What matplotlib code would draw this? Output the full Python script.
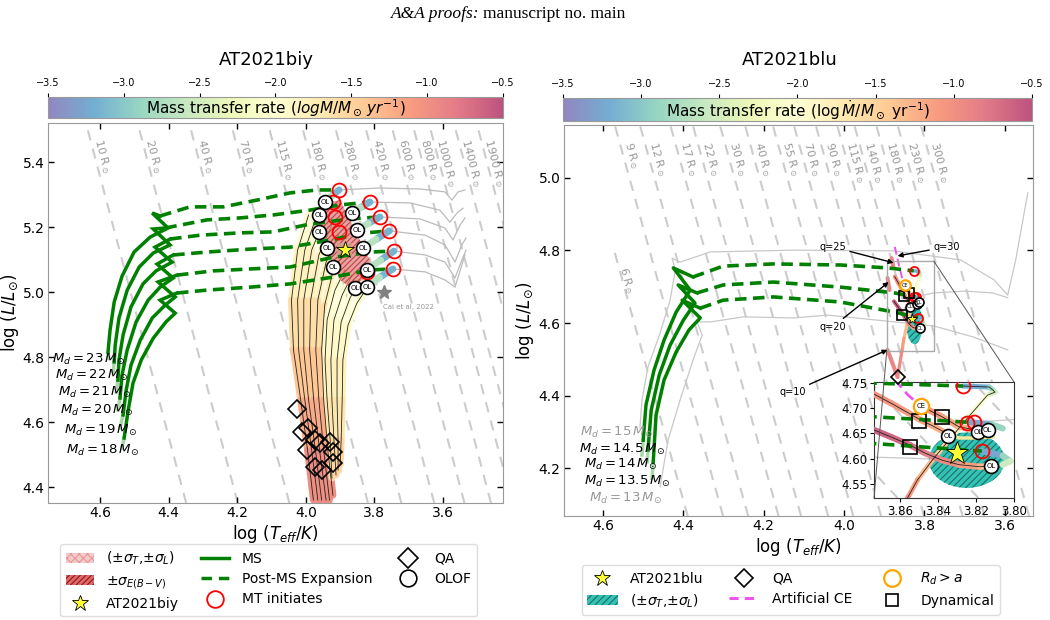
import numpy as np
import matplotlib
matplotlib.use('Agg')
import matplotlib.pyplot as plt
from matplotlib.colors import ListedColormap, Normalize
from matplotlib.collections import LineCollection
from matplotlib.patches import Polygon, Rectangle, Ellipse, Patch, ConnectionPatch
from matplotlib.lines import Line2D
from matplotlib.cm import ScalarMappable

plt.rcParams['font.family'] = ['DejaVu Sans']
plt.rcParams['hatch.linewidth'] = 0.8

LOG_TSUN = np.log10(5772.0)

# ---------------- AT2021biy (left panel) ----------------
biy_masses = [18, 19, 20, 21, 22, 23]
biy_label_T = [4.486, 4.492, 4.504, 4.510, 4.518, 4.527]
biy_label_L = [4.514, 4.575, 4.637, 4.692, 4.742, 4.794]
biy_zams_T = [4.536, 4.542, 4.548, 4.553, 4.562, 4.577]
biy_zams_L = [4.520, 4.582, 4.637, 4.692, 4.754, 4.797]
# main sequence up to the hook
biy_ms_T = [[4.530, 4.518, 4.504, 4.480, 4.445, 4.408, 4.381, 4.425, 4.376],
            [4.533, 4.524, 4.510, 4.483, 4.448, 4.410, 4.381, 4.431, 4.376],
            [4.542, 4.536, 4.521, 4.495, 4.460, 4.425, 4.387, 4.434, 4.387],
            [4.548, 4.545, 4.533, 4.510, 4.475, 4.437, 4.390, 4.440, 4.396],
            [4.559, 4.556, 4.545, 4.521, 4.486, 4.445, 4.396, 4.445, 4.410],
            [4.577, 4.571, 4.559, 4.536, 4.501, 4.454, 4.402, 4.448, 4.425]]
biy_ms_L = [[4.551, 4.637, 4.720, 4.791, 4.858, 4.908, 4.935, 4.975, 4.997],
            [4.622, 4.698, 4.775, 4.852, 4.920, 4.960, 4.985, 5.031, 5.052],
            [4.674, 4.745, 4.822, 4.908, 4.975, 5.015, 5.043, 5.086, 5.114],
            [4.729, 4.791, 4.868, 4.954, 5.025, 5.065, 5.092, 5.138, 5.163],
            [4.785, 4.837, 4.920, 5.006, 5.077, 5.120, 5.145, 5.194, 5.197],
            [4.815, 4.883, 4.969, 5.049, 5.123, 5.169, 5.197, 5.243, 5.234]]
# post-MS expansion
biy_pms_T = [[4.376, 4.288, 4.163, 4.046, 3.921, 3.813, 3.746],
             [4.376, 4.271, 4.163, 4.046, 3.929, 3.813, 3.743],
             [4.387, 4.288, 4.163, 4.046, 3.929, 3.827, 3.757],
             [4.396, 4.308, 4.192, 4.096, 3.988, 3.871, 3.784],
             [4.410, 4.288, 4.192, 4.096, 3.988, 3.900, 3.813],
             [4.425, 4.338, 4.241, 4.142, 4.046, 3.967, 3.903]]
biy_pms_L = [[4.997, 5.006, 5.015, 5.025, 5.046, 5.068, 5.071],
             [5.052, 5.065, 5.071, 5.077, 5.105, 5.123, 5.126],
             [5.114, 5.123, 5.132, 5.138, 5.160, 5.182, 5.188],
             [5.163, 5.175, 5.182, 5.185, 5.209, 5.225, 5.231],
             [5.197, 5.222, 5.228, 5.237, 5.252, 5.268, 5.277],
             [5.234, 5.262, 5.262, 5.283, 5.305, 5.314, 5.314]]
# single-star continuation (grey)
biy_single_T = [[3.746, 3.652, 3.594, 3.565, 3.545, 3.536],
                [3.743, 3.652, 3.594, 3.565, 3.545, 3.533],
                [3.757, 3.652, 3.594, 3.565, 3.545, 3.533],
                [3.784, 3.667, 3.594, 3.571, 3.550, 3.536],
                [3.813, 3.696, 3.609, 3.580, 3.559, 3.542],
                [3.903, 3.784, 3.667, 3.594, 3.574, 3.556, 3.536]]
biy_single_L = [[5.071, 5.062, 5.037, 5.015, 5.083, 5.114],
                [5.126, 5.114, 5.092, 5.043, 5.098, 5.129],
                [5.188, 5.175, 5.145, 5.092, 5.145, 5.166],
                [5.231, 5.225, 5.197, 5.160, 5.206, 5.228],
                [5.277, 5.274, 5.252, 5.215, 5.243, 5.258],
                [5.314, 5.320, 5.317, 5.308, 5.283, 5.308, 5.314]]
# mass transfer right after RLOF (late MT models)
biy_mt_T = [[3.746, 3.785, 3.822], [3.743, 3.782, 3.822], [3.757, 3.795, 3.833],
            [3.784, 3.818, 3.851], [3.813, 3.840, 3.865], [3.903, 3.925, 3.944]]
biy_mt_L = [[5.071, 5.045, 5.015], [5.126, 5.098, 5.068], [5.188, 5.162, 5.135],
            [5.231, 5.211, 5.191], [5.277, 5.260, 5.243], [5.314, 5.296, 5.277]]
biy_mt_rate = [-3.4, -2.9, -2.5]
# accretor-like arcs (early MT models)
biy_arcA_T = [[3.992, 4.024, 4.042, 4.036, 4.015, 3.995, 3.978],
              [3.965, 4.003, 4.024, 4.021, 4.003, 3.983, 3.965],
              [3.941, 3.983, 4.006, 4.006, 3.992, 3.972, 3.954],
              [3.921, 3.962, 3.986, 3.989, 3.977, 3.960, 3.941],
              [3.904, 3.941, 3.965, 3.971, 3.962, 3.948, 3.931],
              [3.884, 3.921, 3.945, 3.954, 3.948, 3.936, 3.921]]
biy_arcA_L = [[5.237, 5.129, 4.975, 4.822, 4.668, 4.514, 4.360],
              [5.246, 5.129, 4.975, 4.822, 4.668, 4.514, 4.360],
              [5.237, 5.129, 4.975, 4.822, 4.668, 4.514, 4.360],
              [5.215, 5.114, 4.975, 4.822, 4.668, 4.514, 4.360],
              [5.175, 5.092, 4.975, 4.822, 4.668, 4.514, 4.360],
              [5.129, 5.062, 4.960, 4.822, 4.668, 4.514, 4.375]]
biy_arcA_rate = [-2.0, -1.9, -1.7, -1.5, -1.3, -1.1, -0.85]
biy_arcB_T = [[3.886, 3.915, 3.938, 3.944, 3.938, 3.929, 3.924],
              [3.865, 3.894, 3.918, 3.927, 3.924, 3.918, 3.912],
              [3.842, 3.871, 3.897, 3.909, 3.909, 3.906, 3.906],
              [3.822, 3.851, 3.877, 3.892, 3.894, 3.897, 3.900]]
biy_arcB_L = [[5.068, 5.006, 4.914, 4.791, 4.668, 4.545, 4.428],
              [5.052, 4.991, 4.914, 4.791, 4.668, 4.545, 4.437],
              [5.037, 4.982, 4.908, 4.791, 4.668, 4.545, 4.452],
              [5.012, 4.966, 4.898, 4.791, 4.668, 4.545, 4.468]]
biy_arcB_rate = [-2.15, -2.05, -1.95, -1.85, -1.75, -1.6, -1.45]
biy_rlof_T = [3.921, 3.915, 3.903, 3.822]
biy_rlof_L = [5.277, 5.231, 5.185, 5.062]
biy_ol_T = [3.944, 3.962, 3.865, 3.962, 3.851, 3.938, 3.833, 3.921, 3.822, 3.857, 3.822]
biy_ol_L = [5.277, 5.237, 5.243, 5.185, 5.191, 5.135, 5.135, 5.077, 5.068, 5.012, 5.015]
biy_qa_T = [4.026, 4.011, 3.994, 3.997, 3.973, 3.959, 3.929, 3.921, 3.921, 3.973, 3.953]
biy_qa_L = [4.640, 4.569, 4.582, 4.514, 4.545, 4.535, 4.538, 4.508, 4.474, 4.462, 4.452]
biy_ebv_T = [3.950, 3.900, 3.813, 3.819, 3.871, 3.900, 3.959]
biy_ebv_L = [5.274, 5.283, 5.098, 5.046, 5.015, 5.037, 5.191]
biy_obs = (3.886, 5.129)
biy_err_T = (3.865, 3.909)
biy_err_L = (5.108, 5.151)
cai_obs = (3.772, 5.000)
biy_radii = [10, 20, 40, 70, 115, 180, 280, 420, 600, 800, 1000, 1400, 1900]

# ---------------- AT2021blu (right panel) ----------------
blu_label_txt = ['15', '14.5', '14', '13.5', '13']
blu_label_col = ['#999999', 'k', 'k', 'k', '#999999']
blu_label_T = [4.475, 4.445, 4.465, 4.433, 4.453]
blu_label_L = [4.297, 4.252, 4.211, 4.164, 4.117]
blu_zams_T = [4.478, 4.490, 4.503]
blu_zams_L = [4.172, 4.217, 4.236]
blu_ms_T = [[4.475, 4.468, 4.448, 4.418, 4.386, 4.358, 4.403, 4.358],
            [4.488, 4.480, 4.460, 4.433, 4.400, 4.371, 4.413, 4.366],
            [4.500, 4.493, 4.473, 4.448, 4.418, 4.383, 4.425, 4.376]]
blu_ms_L = [[4.217, 4.346, 4.443, 4.520, 4.581, 4.614, 4.663, 4.641],
            [4.250, 4.360, 4.457, 4.539, 4.608, 4.655, 4.705, 4.683],
            [4.277, 4.374, 4.470, 4.553, 4.630, 4.691, 4.752, 4.727]]
blu_pms_T = [[4.358, 4.301, 4.176, 4.009, 3.874, 3.817],
             [4.366, 4.301, 4.176, 4.009, 3.874, 3.823],
             [4.376, 4.301, 4.176, 4.009, 3.892, 3.827]]
blu_pms_L = [[4.641, 4.663, 4.672, 4.658, 4.630, 4.615],
             [4.683, 4.705, 4.713, 4.699, 4.683, 4.672],
             [4.727, 4.757, 4.763, 4.760, 4.752, 4.744]]
blu_g15_T = [4.508, 4.503, 4.488, 4.458, 4.433, 4.420, 4.428, 4.408, 4.333, 4.126, 3.877,
             3.710, 3.627, 3.593, 3.573, 3.543]
blu_g15_L = [4.311, 4.388, 4.479, 4.572, 4.663, 4.746, 4.779, 4.768, 4.796, 4.801, 4.799,
             4.774, 4.719, 4.677, 4.774, 4.959]
blu_g13_T = [4.458, 4.438, 4.408, 4.376, 4.353, 4.366, 4.333, 4.251, 4.126, 4.041, 3.777,
             3.677, 3.593]
blu_g13_L = [4.148, 4.277, 4.388, 4.498, 4.567, 4.603, 4.603, 4.617, 4.614, 4.622, 4.592,
             4.561, 4.526]
blu_gmid_T = [3.823, 3.777, 3.700, 3.630, 3.593]
blu_gmid_L = [4.672, 4.683, 4.688, 4.683, 4.670]
blu_long_T = [3.827, 3.813, 3.810, 3.814, 3.824, 3.833, 3.843, 3.851, 3.856, 3.867]
blu_long_L = [4.744, 4.742, 4.732, 4.726, 4.683, 4.643, 4.598, 4.558, 4.524, 4.451]
blu_long_rate = [-3.3, -3.1, -2.7, -2.3, -1.9, -1.6, -1.4, -1.2, -1.0, -0.9]
blu_q10_T = [3.892, 3.867]
blu_q10_L = [4.526, 4.451]
blu_q25_T = [3.882, 3.877]
blu_q25_L = [4.779, 4.752]
blu_q20_T = [3.892, 3.887]
blu_q20_L = [4.724, 4.691]
blu_t1_T = [3.874, 3.865, 3.856, 3.850, 3.843, 3.835]
blu_t1_L = [4.728, 4.710, 4.691, 4.678, 4.665, 4.649]
blu_t1_rate = [-1.0, -1.05, -1.1, -1.15, -1.2, -1.3]
blu_t1tail_T = [3.835, 3.829, 3.820, 3.811]
blu_t1tail_L = [4.649, 4.641, 4.641, 4.643]
blu_t2_T = [3.876, 3.865, 3.855, 3.847, 3.838, 3.829, 3.818, 3.812]
blu_t2_L = [4.660, 4.643, 4.627, 4.611, 4.597, 4.588, 4.584, 4.586]
blu_t2_rate = [-0.6, -0.65, -0.7, -0.8, -0.9, -1.0, -1.2, -1.4]
blu_t3_T = [3.849, 3.838, 3.829, 3.820, 3.814]
blu_t3_L = [4.704, 4.683, 4.663, 4.657, 4.657]
blu_t3_rate = [-1.0, -1.1, -1.2, -1.4, -1.6]
blu_mid_T = [3.823, 3.812, 3.806]
blu_mid_L = [4.672, 4.668, 4.660]
blu_bot_T = [3.817, 3.806, 3.802, 3.806]
blu_bot_L = [4.615, 4.606, 4.595, 4.588]
blu_low_rate = [-3.4, -3.1, -2.7, -2.4]
blu_ce_line_T = [3.874, 3.862, 3.856, 3.850]
blu_ce_line_L = [4.810, 4.752, 4.726, 4.707]
blu_rlof_T = [3.827, 3.825, 3.821, 3.817]
blu_rlof_L = [4.744, 4.671, 4.673, 4.615]
blu_ol_T = [3.835, 3.819, 3.814, 3.812]
blu_ol_L = [4.645, 4.653, 4.657, 4.586]
blu_dyn_T = [3.850, 3.838, 3.855]
blu_dyn_L = [4.675, 4.683, 4.623]
blu_ce = (3.849, 4.704)
blu_qa = (3.867, 4.451)
blu_obs = (3.830, 4.611)
blu_err_c = (3.825, 4.597)
blu_err_wh = (0.040, 0.110)
blu_radii = [9, 12, 17, 22, 30, 40, 55, 70, 90, 115, 140, 180, 230, 300]
blu_q_txt = ['q=25', 'q=30', 'q=20', 'q=10']
blu_q_tip = [(3.877, 4.766), (3.867, 4.785), (3.889, 4.713), (3.892, 4.526)]
blu_q_pos = [(4.029, 4.810), (3.745, 4.810), (4.029, 4.589), (4.129, 4.410)]

# ---------------- colour scale ----------------
base = plt.get_cmap('Spectral_r')(np.linspace(0, 1, 256))
base[:, :3] = base[:, :3] * 0.68 + 0.32
cmap = ListedColormap(base)
norm = Normalize(-3.5, -0.5)

GREEN = '#008000'
DASH = (0, (3.2, 1.8))
ISO = '#cccccc'


def mt_line(ax, T, L, rate, lw, core=True, z=3):
    pts = np.column_stack([T, L])
    segs = np.stack([pts[:-1], pts[1:]], axis=1)
    r = np.asarray(rate, float)[:len(T)]
    lc = LineCollection(segs, cmap=cmap, norm=norm, linewidths=lw,
                        capstyle='round', zorder=z)
    lc.set_array(0.5 * (r[:-1] + r[1:]))
    ax.add_collection(lc)
    if core:
        ax.plot(T, L, color='#222222', lw=0.6, zorder=z + 0.1)


def iso_lines(ax, radii, ltop=None):
    L0, L1 = ax.get_ylim()
    for R in radii:
        top = L1 if ltop is None else ltop
        L = np.array([L0, top])
        T = LOG_TSUN + (L - 2 * np.log10(R)) / 4
        ax.plot(T, L, color=ISO, lw=1.5, ls=(0, (5, 4)), zorder=1)


def iso_labels(ax, radii, Ltxt, dx=5):
    p0 = ax.transData.transform((4.0, 4.6))
    p1 = ax.transData.transform((3.9, 4.2))
    ang = np.degrees(np.arctan2(p1[1] - p0[1], p1[0] - p0[0]))
    for R in radii:
        T = LOG_TSUN + (Ltxt - 2 * np.log10(R)) / 4
        ax.annotate(f'{R} R$_\\odot$', (T, Ltxt), xytext=(dx, 0),
                    textcoords='offset points', rotation=ang,
                    rotation_mode='anchor', ha='left', va='center',
                    fontsize=8, color='#999999', zorder=2)


def circles_text(ax, T, L, txt, ms, fs, ec='k'):
    ax.plot(T, L, 'o', ms=ms, mfc='white', mec=ec, mew=1.2, ls='none', zorder=7)
    for t, l in zip(T, L):
        ax.text(t, l, txt, fontsize=fs, ha='center', va='center', zorder=8,
                clip_on=True)


def style_axes(ax):
    ax.tick_params(direction='in', top=True, right=True, labelsize=10,
                   length=4, width=1, pad=2.5)
    for s in ax.spines.values():
        s.set_color('#999999')


fig = plt.figure(figsize=(10.5, 6.2), dpi=100)
fig.text(479 / 1050, 1 - 14 / 620, 'A&A proofs:', style='italic',
         family='Liberation Serif', ha='right', va='center', fontsize=12.5)
fig.text(483 / 1050, 1 - 14 / 620, 'manuscript no. main',
         family='Liberation Serif', ha='left', va='center', fontsize=12.5)

# ====================== left panel ======================
ax1 = fig.add_axes([48 / 1050, 1 - 503 / 620, 455 / 1050, 380 / 620])
ax1.set_xlim(4.752, 3.425)
ax1.set_ylim(4.351, 5.52)
style_axes(ax1)
ax1.set_xticks([4.6, 4.4, 4.2, 4.0, 3.8, 3.6])
ax1.set_yticks([4.4, 4.6, 4.8, 5.0, 5.2, 5.4])

iso_lines(ax1, biy_radii)
iso_labels(ax1, biy_radii, 5.47)

for T, L in zip(biy_single_T, biy_single_L):
    ax1.plot(T, L, color='#bbbbbb', lw=0.9, zorder=2)

for T, L in zip(biy_arcA_T, biy_arcA_L):
    mt_line(ax1, T, L, biy_arcA_rate, 5, z=3)
for T, L in zip(biy_arcB_T, biy_arcB_L):
    mt_line(ax1, T, L, biy_arcB_rate, 5, z=3)

ax1.add_patch(Polygon(np.column_stack([biy_ebv_T, biy_ebv_L]), closed=True,
                      facecolor='#e88080', edgecolor='#a52a2a', hatch='//////',
                      lw=0, alpha=0.75, zorder=3.5))
ax1.add_patch(Rectangle((biy_err_T[0], biy_err_L[0]), biy_err_T[1] - biy_err_T[0],
                        biy_err_L[1] - biy_err_L[0], facecolor='#c8a080',
                        edgecolor='#d8a0a0', hatch='xxxx', lw=0, alpha=0.8, zorder=3.6))

for T, L in zip(biy_mt_T, biy_mt_L):
    mt_line(ax1, T, L, biy_mt_rate, 5, core=False, z=4.5)

for i in range(len(biy_masses)):
    ax1.plot([biy_zams_T[i], biy_ms_T[i][0]], [biy_zams_L[i], biy_ms_L[i][0]],
             color='#a8d8a8', lw=2.5, zorder=4)
    ax1.plot(biy_ms_T[i], biy_ms_L[i], color=GREEN, lw=2.5, zorder=4,
             solid_joinstyle='miter')
    ax1.plot(biy_pms_T[i], biy_pms_L[i], color=GREEN, lw=2.6, ls=DASH, zorder=4)
    ax1.text(biy_label_T[i], biy_label_L[i],
             f'$M_d = {biy_masses[i]}\\,M_{{\\odot}}$', ha='right', va='center',
             fontsize=9.5, zorder=6)

rend_T = [p[-1] for p in biy_pms_T] + biy_rlof_T
rend_L = [p[-1] for p in biy_pms_L] + biy_rlof_L
ax1.plot(rend_T, rend_L, 'o', ms=10, mfc='none', mec='red', mew=1.3, ls='none', zorder=6)
circles_text(ax1, biy_ol_T, biy_ol_L, 'OL', 10, 5)
ax1.plot(biy_qa_T, biy_qa_L, 'D', ms=9, mfc='none', mec='k', mew=1.2, ls='none', zorder=6)
ax1.plot(*biy_obs, '*', ms=13, mfc='#ffff33', mec='k', mew=0.6, zorder=9)
ax1.plot(*cai_obs, '*', ms=10, color='#808080', zorder=6)
ax1.text(cai_obs[0] + 0.002, cai_obs[1] - 0.045, 'Cai et al, 2022', fontsize=5,
         color='#999999', ha='left', va='center')

ax1.set_xlabel(r'log $(T_{eff}/K)$', fontsize=12, labelpad=2)
ax1.set_ylabel(r'log $(L/L_{\odot})$', fontsize=12, labelpad=1)

cax1 = fig.add_axes([48 / 1050, 1 - 118 / 620, 455 / 1050, 21 / 620])
sm = ScalarMappable(norm=norm, cmap=cmap)
cb1 = fig.colorbar(sm, cax=cax1, orientation='horizontal', ticklocation='top')
cax1.text(0.5, 0.45, r'Mass transfer rate ($logM/M_\odot\, yr^{-1}$)',
          transform=cax1.transAxes, ha='center', va='center', fontsize=11)
fig.text(0.254, 1 - 60 / 620, 'AT2021biy', ha='center', va='center', fontsize=13)

# ====================== right panel ======================
ax2 = fig.add_axes([564 / 1050, 1 - 516 / 620, 469 / 1050, 391 / 620])


def draw_blu(ax, big):
    s = 1.0 if big else 0.65
    iso_lines(ax, blu_radii)
    iso_lines(ax, [6], ltop=4.80)
    ax.plot(blu_g15_T, blu_g15_L, color='#c8c8c8', lw=0.9, zorder=2)
    ax.plot(blu_g13_T, blu_g13_L, color='#c8c8c8', lw=0.9, zorder=2)
    ax.plot(blu_gmid_T, blu_gmid_L, color='#c8c8c8', lw=0.9, zorder=2)
    ax.add_patch(Ellipse(blu_err_c, blu_err_wh[0], blu_err_wh[1],
                         facecolor='#33c2b4', edgecolor='#1b6e68', hatch='/////',
                         lw=0, zorder=2.5))
    for i in range(3):
        ax.plot([blu_zams_T[i], blu_ms_T[i][0]], [blu_zams_L[i], blu_ms_L[i][0]],
                color='#a8d8a8', lw=2.5, zorder=4)
        ax.plot(blu_ms_T[i], blu_ms_L[i], color=GREEN, lw=2.5, zorder=4)
        ax.plot(blu_pms_T[i], blu_pms_L[i], color=GREEN, lw=2.6, ls=DASH, zorder=4)
    lw = 4.5 * s
    mt_line(ax, blu_long_T, blu_long_L, blu_long_rate, lw * 0.8, core=big, z=3)
    mt_line(ax, blu_q10_T, blu_q10_L, [-0.8, -1.0], lw, core=False, z=3)
    mt_line(ax, blu_q25_T, blu_q25_L, [-0.9, -0.9], lw, core=False, z=3)
    mt_line(ax, blu_q20_T, blu_q20_L, [-0.9, -0.9], lw, core=False, z=3)
    mt_line(ax, blu_t1_T, blu_t1_L, blu_t1_rate, lw, z=3)
    ax.plot(blu_t1tail_T, blu_t1tail_L, color='#f3e79b', lw=2.5 * s, zorder=3)
    mt_line(ax, blu_t2_T, blu_t2_L, blu_t2_rate, lw, z=3)
    mt_line(ax, blu_t3_T, blu_t3_L, blu_t3_rate, lw, z=3)
    mt_line(ax, blu_mid_T, blu_mid_L, blu_low_rate, lw, core=False, z=3)
    mt_line(ax, blu_bot_T, blu_bot_L, blu_low_rate, lw, core=False, z=3)
    ax.plot(blu_ce_line_T, blu_ce_line_L, color='#ee55ee', lw=1.6 * s + 0.4,
            ls=(0, (4, 2)), zorder=3.5)
    ms = 10 if big else 6.5
    ax.plot(blu_rlof_T, blu_rlof_L, 'o', ms=ms, mfc='none', mec='red', mew=1.3,
            ls='none', zorder=6)
    circles_text(ax, blu_ol_T, blu_ol_L, 'OL', ms, 5 if big else 3.5)
    ax.plot(*blu_ce, 'o', ms=ms + 1, mfc='white', mec='orange', mew=1.6, zorder=7)
    ax.text(*blu_ce, 'CE', fontsize=5 if big else 3.5, ha='center', va='center',
            zorder=8, clip_on=True)
    ax.plot(blu_dyn_T, blu_dyn_L, 's', ms=ms, mfc='none', mec='k', mew=1.2,
            ls='none', zorder=6)
    ax.plot(*blu_qa, 'D', ms=7, mfc='none', mec='k', mew=1.2, zorder=6)
    ax.plot(*blu_obs, '*', ms=17 if big else 8, mfc='#ffff33', mec='k', mew=0.6,
            zorder=9)


ax2.set_xlim(4.697, 3.530)
ax2.set_ylim(4.068, 5.146)
style_axes(ax2)
ax2.set_xticks([4.6, 4.4, 4.2, 4.0, 3.8, 3.6])
ax2.set_yticks([4.2, 4.4, 4.6, 4.8, 5.0])
draw_blu(ax2, False)
iso_labels(ax2, blu_radii, 5.099, dx=6)
iso_labels(ax2, [6], 4.755, dx=3)

for i in range(5):
    ax2.text(blu_label_T[i], blu_label_L[i], f'$M_d = {blu_label_txt[i]}\\,M_{{\\odot}}$',
             ha='right', va='center', fontsize=9.5, color=blu_label_col[i], zorder=6)

for txt, tip, pos in zip(blu_q_txt, blu_q_tip, blu_q_pos):
    ax2.annotate(txt, xy=tip, xytext=pos, ha='center', va='center', fontsize=7,
                 zorder=10, arrowprops=dict(arrowstyle='-|>', color='k', lw=1,
                                            mutation_scale=7, shrinkA=1, shrinkB=0))

ax2.add_patch(Rectangle((3.777, 4.523), 0.117, 0.248, fill=False,
                        edgecolor='#aaaaaa', lw=1.0, zorder=5))

axin = ax2.inset_axes([0.661, 0.046, 0.2985, 0.2967])
axin.set_xlim(3.874, 3.800)
axin.set_ylim(4.522, 4.752)
axin.set_facecolor('white')
draw_blu(axin, True)
axin.set_xlim(3.874, 3.800)
axin.set_ylim(4.522, 4.752)
axin.set_xticks([3.86, 3.84, 3.82, 3.80])
axin.set_yticks([4.55, 4.60, 4.65, 4.70, 4.75])
axin.tick_params(labelsize=8.5, length=3, pad=2)
for s in axin.spines.values():
    s.set_color('#333333')

for xa, xb in [((3.777, 4.771), (1, 1)), ((3.894, 4.523), (0, 0))]:
    con = ConnectionPatch(xyA=xa, coordsA='data', axesA=ax2, xyB=xb,
                          coordsB='axes fraction', axesB=axin, color='#555555', lw=0.7)
    fig.add_artist(con)

ax2.set_xlabel(r'log $(T_{eff}/K)$', fontsize=12, labelpad=2)
ax2.set_ylabel(r'log $(L/L_{\odot})$', fontsize=12, labelpad=2)

cax2 = fig.add_axes([563 / 1050, 1 - 121 / 620, 469 / 1050, 23 / 620])
cb2 = fig.colorbar(sm, cax=cax2, orientation='horizontal', ticklocation='top')
cax2.text(0.5, 0.45, r'Mass transfer rate (log$\,\dot{M}/M_\odot$ yr$^{-1}$)',
          transform=cax2.transAxes, ha='center', va='center', fontsize=11)
fig.text(0.752, 1 - 60 / 620, 'AT2021blu', ha='center', va='center', fontsize=13)

for cb, cx in [(cb1, cax1), (cb2, cax2)]:
    cb.set_ticks([-3.5, -3.0, -2.5, -2.0, -1.5, -1.0, -0.5])
    cx.tick_params(labelsize=7, length=3)
    cb.outline.set_edgecolor('#999999')

# ====================== legends ======================
h_left = [Patch(facecolor='#f6c9c9', edgecolor='#e39a9a', hatch='xxxx', lw=0),
          Patch(facecolor='#e06868', edgecolor='#8b1a1a', hatch='//////', lw=0),
          Line2D([], [], marker='*', ls='none', ms=12, mfc='#ffff33', mec='k', mew=0.6),
          Line2D([], [], color=GREEN, lw=2.5),
          Line2D([], [], color=GREEN, lw=2.5, ls=(0, (3, 2))),
          Line2D([], [], marker='o', ls='none', ms=12, mfc='none', mec='red', mew=1.3),
          Line2D([], [], marker='D', ls='none', ms=10, mfc='none', mec='k', mew=1.2),
          Line2D([], [], marker='o', ls='none', ms=12, mfc='none', mec='k', mew=1.2)]
l_left = [r'$(\pm\sigma_T$,$\pm\sigma_L)$', r'$\pm\sigma_{E(B-V)}$', 'AT2021biy', 'MS',
          'Post-MS Expansion', 'MT initiates', 'QA', 'OLOF']
fig.legend(h_left, l_left, ncol=3, loc='center', bbox_to_anchor=(0.256, 0.064),
           fontsize=10, handlelength=2.0, handletextpad=0.9, columnspacing=1.6,
           labelspacing=0.45, framealpha=1, edgecolor='#dddddd')

h_right = [Line2D([], [], marker='*', ls='none', ms=12, mfc='#ffff33', mec='k', mew=0.6),
           Patch(facecolor='#33c2b4', edgecolor='#1b6e68', hatch='/////', lw=0),
           Line2D([], [], marker='D', ls='none', ms=9, mfc='none', mec='k', mew=1.2),
           Line2D([], [], color='#ee55ee', lw=2.2, ls=(0, (3, 2))),
           Line2D([], [], marker='o', ls='none', ms=12, mfc='none', mec='orange', mew=1.6),
           Line2D([], [], marker='s', ls='none', ms=9, mfc='none', mec='k', mew=1.2)]
l_right = ['AT2021blu', r'$(\pm\sigma_T$,$\pm\sigma_L)$', 'QA', 'Artificial CE',
           r'$R_d > a$', 'Dynamical']
fig.legend(h_right, l_right, ncol=3, loc='center', bbox_to_anchor=(0.753, 0.048),
           fontsize=10, handlelength=2.2, handletextpad=0.9, columnspacing=1.8,
           labelspacing=0.45, framealpha=1, edgecolor='#dddddd')

fig.savefig('out.png', dpi=100)
